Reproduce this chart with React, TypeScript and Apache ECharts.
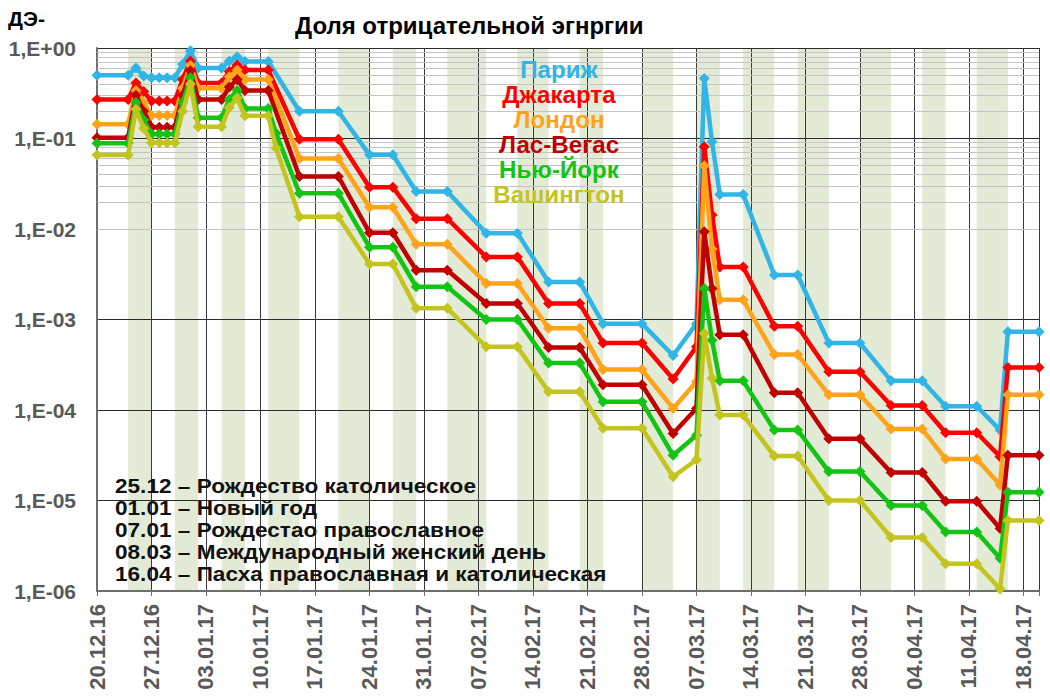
import React, { useEffect, useRef } from 'react';
import * as echarts from 'echarts';

const FONT = '"Liberation Sans", Arial, sans-serif';

const titleText = 'Доля отрицательной эгнргии';
const yName = 'ДЭ-';

// days counted from 20.12.16
const pointDays = [0, 4, 5, 6, 7, 8, 9, 10, 11, 12, 13, 16, 17, 18, 19, 22, 23, 26, 31, 35, 38, 41, 45, 50, 54, 58, 62, 65, 70, 74, 77, 78, 79, 80, 83, 87, 90, 94, 98, 102, 106, 109, 113, 116, 117, 121];

const tickLabels = ['20.12.16', '27.12.16', '03.01.17', '10.01.17', '17.01.17', '24.01.17', '31.01.17', '07.02.17', '14.02.17', '21.02.17', '28.02.17', '07.03.17', '14.03.17', '21.03.17', '28.03.17', '04.04.17', '11.04.17', '18.04.17'];

// shaded (non-working) periods, in days from 20.12.16
const shadedPeriods = [[4, 7], [10, 13], [16, 19], [22, 26], [31, 35], [38, 41], [45, 50], [54, 58], [62, 65], [70, 74], [77, 80], [83, 87], [90, 94], [98, 102], [106, 109], [113, 117]];

const seriesNames = ['Париж', 'Джакарта', 'Лондон', 'Лас-Вегас', 'Нью-Йорк', 'Вашингтон'];
const seriesColors = ['#31B5E6', '#FF0000', '#FFA31A', '#C00000', '#14C414', '#C4C41E'];

const paris = [0.50, 0.50, 0.60, 0.49, 0.47, 0.47, 0.47, 0.47, 0.66, 0.93, 0.60, 0.60, 0.72, 0.80, 0.71, 0.71, null, 0.20, 0.20, 0.066, 0.066, 0.026, 0.026, 0.0090, 0.0090, 0.0026, 0.0026, 0.00090, 0.00090, 0.00040, 0.00090, 0.46, 0.092, 0.024, 0.024, 0.0031, 0.0031, 0.00055, 0.00055, 0.00021, 0.00021, 0.00011, 0.00011, 0.00006, 0.00073, 0.00073];
const jakarta = [0.27, 0.27, 0.41, 0.33, 0.26, 0.26, 0.26, 0.26, 0.45, 0.72, 0.41, 0.41, 0.55, 0.65, 0.57, 0.57, null, 0.098, 0.098, 0.029, 0.029, 0.013, 0.013, 0.0049, 0.0049, 0.0015, 0.0015, 0.00055, 0.00055, 0.00022, 0.00050, 0.081, 0.0143, 0.0038, 0.0038, 0.00084, 0.00084, 0.000265, 0.000265, 0.000112, 0.000112, 0.000056, 0.000056, 0.0000305, 0.000295, 0.000295];
const london = [0.144, 0.144, 0.34, 0.25, 0.18, 0.18, 0.18, 0.18, 0.36, 0.64, 0.36, 0.36, 0.48, 0.57, 0.45, 0.45, null, 0.060, 0.060, 0.0174, 0.0174, 0.0068, 0.0068, 0.0025, 0.0025, 0.0008, 0.0008, 0.00028, 0.00028, 0.000104, 0.000205, 0.05, 0.006, 0.00165, 0.00165, 0.00041, 0.00041, 0.000147, 0.000147, 0.0000616, 0.0000616, 0.0000288, 0.0000288, 0.0000148, 0.000147, 0.000147];
const lasVegas = [0.102, 0.102, 0.30, 0.20, 0.133, 0.133, 0.133, 0.133, 0.30, 0.56, 0.27, 0.27, 0.37, 0.45, 0.34, 0.34, null, 0.038, 0.038, 0.0091, 0.0091, 0.0035, 0.0035, 0.0015, 0.0015, 0.00049, 0.00049, 0.00019, 0.00019, 0.000055, 0.000104, 0.0093, 0.0022, 0.00068, 0.00068, 0.000155, 0.000155, 0.000048, 0.000048, 0.0000204, 0.0000204, 0.0000098, 0.0000098, 0.0000049, 0.0000317, 0.0000317];
const newYork = [0.0885, 0.0885, 0.25, 0.16, 0.112, 0.112, 0.112, 0.112, 0.25, 0.47, 0.17, 0.17, 0.27, 0.34, 0.215, 0.215, 0.114, 0.0248, 0.0248, 0.0063, 0.0063, 0.0023, 0.0023, 0.0010, 0.0010, 0.00033, 0.00033, 0.000123, 0.000123, 0.0000316, 0.0000526, 0.0022, 0.00059, 0.00021, 0.00021, 0.00006, 0.00006, 0.0000209, 0.0000209, 0.0000088, 0.0000088, 0.0000045, 0.0000045, 0.0000023, 0.0000123, 0.0000123];
const washington = [0.0657, 0.0657, 0.21, 0.13, 0.090, 0.090, 0.090, 0.090, 0.20, 0.40, 0.135, 0.135, 0.22, 0.28, 0.178, 0.178, 0.0785, 0.0137, 0.0137, 0.0041, 0.0041, 0.00133, 0.00133, 0.0005, 0.0005, 0.000159, 0.000159, 0.000063, 0.000063, 0.0000183, 0.0000282, 0.0007, 0.000224, 0.000088, 0.000088, 0.000031, 0.000031, 0.00001, 0.00001, 0.0000039, 0.0000039, 0.000002, 0.000002, 0.00000105, 0.000006, 0.000006];

const seriesValues = [paris, jakarta, london, lasVegas, newYork, washington];

const holidayNotes = [
  '25.12 – Рождество католическое',
  '01.01 – Новый год',
  '07.01 – Рождестао православное',
  '08.03 – Международный женский день',
  '16.04 – Пасха православная и католическая',
];

// minor log gridlines 2..9 x 10^k
const minorGridValues: number[] = [];
for (let k = -6; k < 0; k++) {
  for (let m = 2; m <= 9; m++) minorGridValues.push(m * Math.pow(10, k));
}

const textEl = (text: string, x: number, y: number, size: number, color: string, align: string, scaleX = 1) => ({
  type: 'text',
  x,
  y,
  scaleX,
  silent: true,
  z: 10,
  style: {
    text,
    fill: color,
    fontSize: size,
    fontWeight: 'bold',
    fontFamily: FONT,
    align,
    verticalAlign: 'middle',
    textAlign: align,
    textVerticalAlign: 'middle',
  },
});

function buildOption() {
  const series: any[] = seriesNames.map((name, i) => ({
    name,
    type: 'line',
    data: pointDays.map((d, j) => [d, seriesValues[i][j]]),
    connectNulls: true,
    symbol: 'diamond',
    symbolSize: 11,
    color: seriesColors[i],
    lineStyle: { width: 4.5, color: seriesColors[i] },
    itemStyle: { color: seriesColors[i] },
    z: 2 + i * 0.01,
  }));
  series[0].markArea = {
    silent: true,
    z: -1,
    itemStyle: { color: '#E3EAD6' },
    data: shadedPeriods.map(([a, b]) => [{ xAxis: a }, { xAxis: b }]),
  };
  series[0].markLine = {
    silent: true,
    z: 1,
    symbol: ['none', 'none'],
    label: { show: false },
    lineStyle: { color: '#C4C4C4', width: 1, type: 'solid' },
    emphasis: { disabled: true },
    data: minorGridValues.map((v) => ({ yAxis: v })),
  };

  const graphic: any[] = [textEl(yName, 8, 18, 21, '#000', 'left')];
  seriesNames.forEach((n, i) => graphic.push(textEl(n, 559, 70 + i * 25, 23, seriesColors[i], 'center', 1.05)));
  holidayNotes.forEach((n, i) => graphic.push(textEl(n, 115, 486 + i * 22, 20, '#111', 'left', 1.13)));

  return {
    animation: false,
    backgroundColor: '#ffffff',
    title: {
      text: titleText,
      left: 290,
      top: 8,
      textStyle: { fontSize: 24, fontWeight: 'bold', color: '#000', fontFamily: FONT },
    },
    grid: { left: 97, right: 11, top: 48, bottom: 109, containLabel: false },
    xAxis: {
      type: 'value',
      min: 0,
      max: 121,
      interval: 7,
      axisLine: { show: true, lineStyle: { color: '#6E6E6E', width: 2 } },
      axisTick: { show: true, length: 5, lineStyle: { color: '#6E6E6E' } },
      splitLine: { show: true, lineStyle: { color: '#3A3A3A', width: 1 } },
      axisLabel: {
        rotate: 90,
        margin: 13,
        fontSize: 22,
        fontWeight: 'bold',
        color: '#595959',
        fontFamily: FONT,
        formatter: (v: number) => (v % 7 === 0 && tickLabels[v / 7] ? tickLabels[v / 7] : ''),
      },
    },
    yAxis: {
      type: 'log',
      logBase: 10,
      min: 1e-6,
      max: 1,
      splitNumber: 6,
      axisLine: { show: true, lineStyle: { color: '#6E6E6E', width: 2 } },
      axisTick: { show: false },
      splitLine: { show: true, lineStyle: { color: '#2A2A2A', width: 1 } },
      axisLabel: {
        margin: 21,
        fontSize: 21,
        fontWeight: 'bold',
        color: '#595959',
        fontFamily: FONT,
        formatter: (v: number) => {
          const e = Math.round(Math.log10(v));
          return '1,E' + (e >= 0 ? '+' : '-') + String(Math.abs(e)).padStart(2, '0');
        },
      },
    },
    graphic,
    series,
  };
}

export default function App() {
  const ref = useRef<HTMLDivElement>(null);
  useEffect(() => {
    if (!ref.current) return;
    const chart = echarts.init(ref.current, null, { renderer: 'svg' });
    chart.setOption(buildOption() as any);
    return () => chart.dispose();
  }, []);
  return (
    <div
      ref={ref}
      style={{ position: 'fixed', left: 0, top: 0, width: 1050, height: 700, background: '#fff' }}
    />
  );
}
